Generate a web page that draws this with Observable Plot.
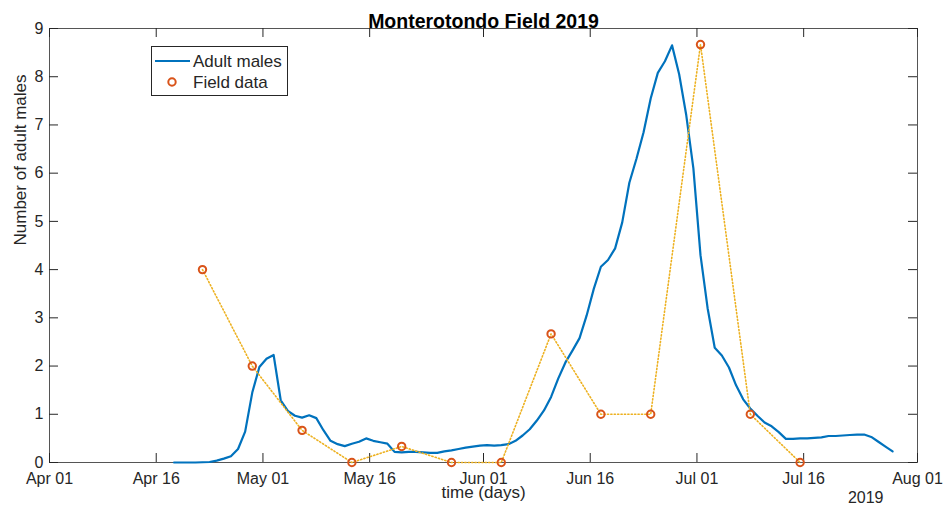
<!DOCTYPE html>
<html>
<head>
<meta charset="utf-8">
<script src="https://cdn.jsdelivr.net/npm/d3@7"></script>
<script src="https://cdn.jsdelivr.net/npm/@observablehq/plot@0.6"></script>
<style>
  html, body { margin: 0; padding: 0; background: #fff; }
  #chart { position: relative; width: 946px; height: 519px; }
</style>
</head>
<body>
<div id="chart"></div>
<script>
// ---- data ----
const title = "Monterotondo Field 2019";
const xLabel = "time (days)";
const yLabel = "Number of adult males";
const yearLabel = "2019";
const seriesNames = ["Adult males", "Field data"];

// simulated adult males, daily samples starting at this date (noon)
const adultStart = "2019-04-18T12:00Z";
const adultValues = [
  0, 0, 0, 0, 0.005, 0.01, 0.04, 0.08, 0.13, 0.28,
  0.64, 1.45, 1.98, 2.15, 2.23, 1.29, 1.07, 0.97, 0.93, 0.98,
  0.92, 0.67, 0.45, 0.38, 0.34, 0.39, 0.43, 0.5, 0.45, 0.42,
  0.39, 0.22, 0.21, 0.22, 0.22, 0.21, 0.2, 0.2, 0.23, 0.25,
  0.28, 0.31, 0.33, 0.35, 0.36, 0.35, 0.36, 0.38, 0.45, 0.56,
  0.69, 0.87, 1.08, 1.36, 1.74, 2.07, 2.32, 2.58, 3.05, 3.6,
  4.06, 4.2, 4.44, 4.98, 5.8, 6.3, 6.85, 7.55, 8.08, 8.32,
  8.65, 8.05, 7.2, 6.1, 4.3, 3.2, 2.38, 2.22, 1.97, 1.6,
  1.31, 1.12, 0.97, 0.83, 0.75, 0.63, 0.49, 0.49, 0.5, 0.5,
  0.51, 0.52, 0.55, 0.55, 0.56, 0.57, 0.58, 0.58, 0.53, 0.43,
  0.33, 0.23
];

// field observations
const fieldDates = [
  "2019-04-22T12:00Z", "2019-04-29T12:00Z", "2019-05-06T12:00Z", "2019-05-13T12:00Z",
  "2019-05-20T12:00Z", "2019-05-27T12:00Z", "2019-06-03T12:00Z", "2019-06-10T12:00Z",
  "2019-06-17T12:00Z", "2019-06-24T12:00Z", "2019-07-01T12:00Z", "2019-07-08T12:00Z",
  "2019-07-15T12:00Z"
];
const fieldValues = [4, 2, 0.667, 0, 0.333, 0, 0, 2.667, 1, 1, 8.667, 1, 0];

// axes
const xDomain = ["2019-04-01T00:00Z", "2019-08-01T00:00Z"];
const xTickDates = [
  "2019-04-01T00:00Z", "2019-04-16T00:00Z", "2019-05-01T00:00Z", "2019-05-16T00:00Z",
  "2019-06-01T00:00Z", "2019-06-16T00:00Z", "2019-07-01T00:00Z", "2019-07-16T00:00Z",
  "2019-08-01T00:00Z"
];
const xTickLabels = ["Apr 01", "Apr 16", "May 01", "May 16", "Jun 01", "Jun 16", "Jul 01", "Jul 16", "Aug 01"];
const yDomain = [0, 9];
const yTicks = [0, 1, 2, 3, 4, 5, 6, 7, 8, 9];

// ---- build tables ----
const start = new Date(adultStart);
const adult = adultValues.map((v, i) => ({date: d3.utcDay.offset(start, i), value: v}));
const field = fieldDates.map((d, i) => ({date: new Date(d), value: fieldValues[i]}));
const xTicks = xTickDates.map(d => new Date(d));
const labelOf = new Map(xTicks.map((d, i) => [+d, xTickLabels[i]]));

const W = 946, H = 519;
const mL = 49, mR = 29, mT = 28, mB = 57;
const plotW = W - mL - mR, plotH = H - mT - mB;
const tickLen = 9;
const axisColor = "#262626";
const font = "'Liberation Sans', Arial, Helvetica, sans-serif";

const plot = Plot.plot({
  width: W,
  height: H,
  marginLeft: mL, marginRight: mR, marginTop: mT, marginBottom: mB,
  style: {fontFamily: font, fontSize: "16px", color: axisColor, background: "white"},
  x: {type: "utc", domain: xDomain.map(d => new Date(d)), ticks: xTicks,
      tickFormat: d => labelOf.get(+d), tickSize: 0, tickPadding: 10, label: null},
  y: {domain: yDomain, ticks: yTicks, tickSize: 0, tickPadding: 6, label: null},
  marks: [
    Plot.frame({stroke: "#555", strokeWidth: 1}),
    // inward ticks on all four sides
    Plot.ruleX(xTicks, {x: d => d, insetTop: plotH - tickLen, stroke: axisColor, strokeWidth: 1}),
    Plot.ruleX(xTicks, {x: d => d, insetBottom: plotH - tickLen, stroke: axisColor, strokeWidth: 1}),
    Plot.ruleY(yTicks, {y: d => d, insetRight: plotW - tickLen, stroke: axisColor, strokeWidth: 1}),
    Plot.ruleY(yTicks, {y: d => d, insetLeft: plotW - tickLen, stroke: axisColor, strokeWidth: 1}),
    // series
    Plot.line(adult, {x: "date", y: "value", stroke: "#0072BD", strokeWidth: 2.2}),
    Plot.line(field, {x: "date", y: "value", stroke: "#EDB120", strokeWidth: 1.6, strokeDasharray: "1.2,2.2"}),
    Plot.dot(field, {x: "date", y: "value", r: 3.7, stroke: "#D95319", strokeWidth: 2, fill: "none"}),
    // titles
    Plot.text([title], {frameAnchor: "top", dy: -14, fontWeight: "bold", fontSize: 19.5, fill: "black"}),
    Plot.text([xLabel], {frameAnchor: "bottom", dy: 35, fontSize: 17, fill: axisColor}),
    Plot.text([yLabel], {frameAnchor: "left", rotate: -90, dx: -29, fontSize: 17, fill: axisColor}),
    Plot.text([yearLabel], {frameAnchor: "bottom-right", dx: -34, dy: 40, fontSize: 16, fill: axisColor})
  ]
});

document.getElementById("chart").appendChild(plot);

// ---- legend ----
const svg = d3.select(plot);
const lg = svg.append("g").attr("font-family", font).attr("font-size", 17)
  .attr("fill", axisColor).attr("text-anchor", "start");
lg.append("rect").attr("x", 151.5).attr("y", 46.5).attr("width", 136).attr("height", 49)
  .attr("fill", "white").attr("stroke", axisColor).attr("stroke-width", 1);
lg.append("line").attr("x1", 155).attr("x2", 190).attr("y1", 61).attr("y2", 61)
  .attr("stroke", "#0072BD").attr("stroke-width", 2.2);
lg.append("circle").attr("cx", 172).attr("cy", 82).attr("r", 3.7)
  .attr("fill", "none").attr("stroke", "#D95319").attr("stroke-width", 2);
lg.append("text").attr("x", 193).attr("y", 61).attr("dy", "0.35em").text(seriesNames[0]);
lg.append("text").attr("x", 193).attr("y", 82).attr("dy", "0.35em").text(seriesNames[1]);
</script>
</body>
</html>
